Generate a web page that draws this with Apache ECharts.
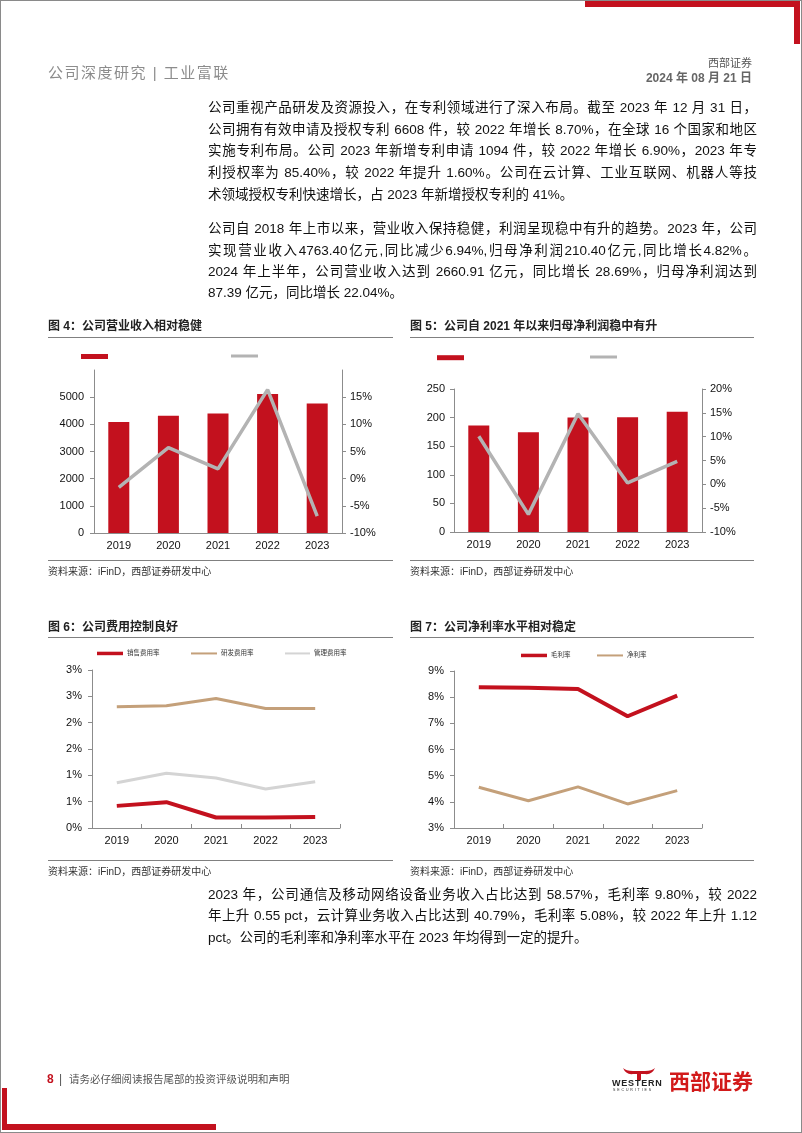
<!DOCTYPE html>
<html>
<head>
<meta charset="utf-8">
<title>工业富联</title>
<script src="https://cdn.jsdelivr.net/npm/echarts@6/dist/echarts.min.js"></script>
<style>
  html, body { margin: 0; padding: 0; background: #fff; }
  #page { position: relative; width: 802px; height: 1133px; overflow: hidden; background: #fff;
          font-family: "Liberation Sans", Arial, "Noto Sans CJK SC", sans-serif; }
  #visualisation { position: absolute; left: 0; top: 0; width: 802px; height: 1133px; }
  .frame { position: absolute; left: 0; top: 0; width: 800px; height: 1131px; border: 1px solid #8a8a8a; }
  .red { position: absolute; background: #c3111e; }
  .txt { position: absolute; white-space: nowrap; }
  .line { position: absolute; left: 208px; width: 549px; height: 22px; line-height: 22px; font-size: 13.5px;
          color: #111; text-align: justify; text-align-last: justify; }
  .line.last { text-align: left; text-align-last: left; }
  .ftitle { position: absolute; font-size: 12px; font-weight: bold; color: #222; line-height: 14px; white-space: nowrap; }
  .rule { position: absolute; height: 1px; background: #808080; }
  .src { position: absolute; font-size: 10px; color: #333; line-height: 12px; white-space: nowrap; }
</style>
</head>
<body>
<div id="page">
  <div id="visualisation"></div>
  <div class="frame"></div>

  <!-- rode hoeken -->
  <div class="red" style="left:585px; top:1px; width:215px; height:6px;"></div>
  <div class="red" style="left:794px; top:1px; width:6px; height:43px;"></div>
  <div class="red" style="left:2px; top:1088px; width:5px; height:42px;"></div>
  <div class="red" style="left:2px; top:1124px; width:214px; height:6px;"></div>

  <!-- kop -->
  <div class="txt" style="left:48px; top:63px; font-size:15px; line-height:20px; color:#8c8c8c; letter-spacing:1.5px;">公司深度研究 | 工业富联</div>
  <div class="txt" style="right:50px; top:56px; font-size:11px; line-height:14px; color:#555;">西部证券</div>
  <div class="txt" style="right:50px; top:71px; font-size:12px; line-height:14px; color:#666; font-weight:bold;">2024 年 08 月 21 日</div>

  <!-- tekst -->
  <div class="line" style="top:97px;">公司重视产品研发及资源投入，在专利领域进行了深入布局。截至 2023 年 12 月 31 日，</div>
  <div class="line" style="top:119px;">公司拥有有效申请及授权专利 6608 件，较 2022 年增长 8.70%，在全球 16 个国家和地区</div>
  <div class="line" style="top:140px;">实施专利布局。公司 2023 年新增专利申请 1094 件，较 2022 年增长 6.90%，2023 年专</div>
  <div class="line" style="top:162px;">利授权率为 85.40%，较 2022 年提升 1.60%。公司在云计算、工业互联网、机器人等技</div>
  <div class="line last" style="top:184px;">术领域授权专利快速增长，占 2023 年新增授权专利的 41%。</div>

  <div class="line" style="top:218px;">公司自 2018 年上市以来，营业收入保持稳健，利润呈现稳中有升的趋势。2023 年，公司</div>
  <div class="line" style="top:240px;">实现营业收入4763.40亿元,同比减少6.94%,归母净利润210.40亿元,同比增长4.82%。</div>
  <div class="line" style="top:261px;">2024 年上半年，公司营业收入达到 2660.91 亿元，同比增长 28.69%，归母净利润达到</div>
  <div class="line last" style="top:282px;">87.39 亿元，同比增长 22.04%。</div>

  <!-- figuurtitels en bronnen -->
  <div class="ftitle" style="left:48px; top:319px;">图 4：公司营业收入相对稳健</div>
  <div class="rule" style="left:48px; top:337px; width:345px;"></div>
  <div class="rule" style="left:48px; top:560px; width:345px;"></div>
  <div class="src" style="left:48px; top:566px;">资料来源：iFinD，西部证券研发中心</div>

  <div class="ftitle" style="left:410px; top:319px;">图 5：公司自 2021 年以来归母净利润稳中有升</div>
  <div class="rule" style="left:410px; top:337px; width:344px;"></div>
  <div class="rule" style="left:410px; top:560px; width:344px;"></div>
  <div class="src" style="left:410px; top:566px;">资料来源：iFinD，西部证券研发中心</div>

  <div class="ftitle" style="left:48px; top:620px;">图 6：公司费用控制良好</div>
  <div class="rule" style="left:48px; top:637px; width:345px;"></div>
  <div class="rule" style="left:48px; top:860px; width:345px;"></div>
  <div class="src" style="left:48px; top:866px;">资料来源：iFinD，西部证券研发中心</div>

  <div class="ftitle" style="left:410px; top:620px;">图 7：公司净利率水平相对稳定</div>
  <div class="rule" style="left:410px; top:637px; width:344px;"></div>
  <div class="rule" style="left:410px; top:860px; width:344px;"></div>
  <div class="src" style="left:410px; top:866px;">资料来源：iFinD，西部证券研发中心</div>

  <div class="line" style="top:884px;">2023 年，公司通信及移动网络设备业务收入占比达到 58.57%，毛利率 9.80%，较 2022</div>
  <div class="line" style="top:905px;">年上升 0.55 pct，云计算业务收入占比达到 40.79%，毛利率 5.08%，较 2022 年上升 1.12</div>
  <div class="line last" style="top:927px;">pct。公司的毛利率和净利率水平在 2023 年均得到一定的提升。</div>

  <!-- voet -->
  <div class="txt" style="left:47px; top:1072px; font-size:12px; line-height:14px; color:#c3111e; font-weight:bold;">8</div>
  <div class="txt" style="left:59px; top:1072px; font-size:12px; line-height:14px; color:#555;">|</div>
  <div class="txt" style="left:69px; top:1073px; font-size:10.5px; line-height:12px; color:#555;">请务必仔细阅读报告尾部的投资评级说明和声明</div>
  <svg class="txt" style="left:622px; top:1066px;" width="34" height="14">
    <path d="M1 2 Q4 9 11 8 L23 8 Q30 9 33 2 Q30 5 23 5 L11 5 Q4 5 1 2 Z" fill="#c3111e"/>
    <rect x="15" y="7" width="4" height="7" fill="#c3111e"/>
  </svg>
  <div class="txt" style="left:612px; top:1078px; font-size:9px; line-height:10px; color:#222; font-weight:bold; letter-spacing:0.8px;">WESTERN</div>
  <div class="txt" style="left:613px; top:1088px; font-size:3.5px; line-height:4px; color:#222; letter-spacing:1.9px;">SECURITIES</div>
  <div class="txt" style="left:669px; top:1070px; font-size:21px; line-height:24px; color:#d21a1a; font-weight:bold;">西部证券</div>
</div>

<script>
// Data uit de figuren
const years = ['2019', '2020', '2021', '2022', '2023'];
const revenue = [4087, 4318, 4396, 5118, 4763];           // 营业收入（亿元）
const revenueYoy = [-1.6, 5.7, 1.8, 16.4, -6.9];          // %
const netProfit = [186.1, 174.3, 200.1, 200.7, 210.4];    // 归母净利润（亿元）
const netProfitYoy = [10.1, -6.3, 14.8, 0.3, 4.8];        // %
const sellingRate = [0.42, 0.49, 0.20, 0.20, 0.21];       // 销售费用率 %
const rdRate = [2.30, 2.32, 2.46, 2.27, 2.27];            // 研发费用率 %
const adminRate = [0.86, 1.04, 0.95, 0.74, 0.88];         // 管理费用率 %
const grossMargin = [8.38, 8.36, 8.31, 7.27, 8.06];       // 毛利率 %
const netMargin = [4.56, 4.04, 4.57, 3.92, 4.43];         // 净利率 %

const FONT = '"Liberation Sans", Arial, "Noto Sans CJK SC", sans-serif';
const RED = '#c3111e';
const GRAY = '#b3b3b3';
const LIGHT = '#d4d4d4';
const TAN = '#c4a07a';
const AXIS = '#8c8c8c';

const plain = v => String(v);
const pct = v => v + '%';

function catAxis(gridIndex, tick) {
  return {
    type: 'category', gridIndex: gridIndex, data: years,
    axisLine: { lineStyle: { color: AXIS } },
    axisTick: { show: tick, inside: true, length: 4, lineStyle: { color: AXIS } },
    axisLabel: { color: '#111', fontSize: 11, margin: 7, fontFamily: FONT }
  };
}

function valAxis(gridIndex, position, min, max, interval, formatter, showMax, margin) {
  return {
    type: 'value', gridIndex: gridIndex, position: position,
    min: min, max: max, interval: interval,
    splitLine: { show: false },
    axisLine: { show: true, lineStyle: { color: AXIS } },
    axisTick: { show: true, length: 4, lineStyle: { color: AXIS } },
    axisLabel: { color: '#111', fontSize: 11, margin: margin, fontFamily: FONT,
                 formatter: formatter, showMaxLabel: showMax }
  };
}

function legendItem(name, left, centerY, w, h, showText) {
  let textH = showText ? 7 : h;
  return {
    data: [name], left: left, top: centerY - Math.max(h, textH) / 2,
    padding: 0, icon: 'rect', itemWidth: w, itemHeight: h, selectedMode: false,
    formatter: showText ? '{name}' : () => '',
    textStyle: { fontSize: showText ? 6.5 : 1, color: '#333', fontFamily: FONT, padding: [0, 0, 0, -1] }
  };
}

function drawVisualisation() {
  let visualisation = echarts.init(document.getElementById('visualisation'));

  let option = {
    animation: false,
    grid: [
      { left: 94, top: 370, width: 248, height: 163, outerBoundsMode: 'none' },
      { left: 454, top: 389, width: 248, height: 143, outerBoundsMode: 'none' },
      { left: 92, top: 670, width: 248, height: 158, outerBoundsMode: 'none' },
      { left: 454, top: 671, width: 248, height: 157, outerBoundsMode: 'none' }
    ],
    xAxis: [catAxis(0, false), catAxis(1, false), catAxis(2, true), catAxis(3, true)],
    yAxis: [
      valAxis(0, 'left', 0, 6000, 1000, plain, false, 10),
      valAxis(0, 'right', -10, 20, 5, pct, false, 8),
      valAxis(1, 'left', 0, 250, 50, plain, true, 9),
      valAxis(1, 'right', -10, 20, 5, pct, true, 8),
      valAxis(2, 'left', 0, 3, 0.5, v => Math.round(v) + '%', true, 10),
      valAxis(3, 'left', 3, 9, 1, pct, true, 10)
    ],
    legend: [
      legendItem('营业收入', 81, 356.5, 27, 5, false),
      legendItem('营业收入同比', 231, 356, 27, 3, false),
      legendItem('归母净利润', 437, 357.7, 27, 5, false),
      legendItem('归母净利润同比', 590, 357, 27, 3, false),
      legendItem('销售费用率', 97, 653.7, 26, 3.5, true),
      legendItem('研发费用率', 191, 653.7, 26, 2, true),
      legendItem('管理费用率', 285, 653.7, 25, 2, true),
      legendItem('毛利率', 521, 655.7, 26, 3.5, true),
      legendItem('净利率', 597, 655.7, 26, 2, true)
    ],
    series: [
      { name: '营业收入', type: 'bar', xAxisIndex: 0, yAxisIndex: 0, data: revenue,
        barWidth: 21, itemStyle: { color: RED } },
      { name: '营业收入同比', type: 'line', xAxisIndex: 0, yAxisIndex: 1, data: revenueYoy,
        symbol: 'none', itemStyle: { color: GRAY }, lineStyle: { color: GRAY, width: 3.5 } },
      { name: '归母净利润', type: 'bar', xAxisIndex: 1, yAxisIndex: 2, data: netProfit,
        barWidth: 21, itemStyle: { color: RED } },
      { name: '归母净利润同比', type: 'line', xAxisIndex: 1, yAxisIndex: 3, data: netProfitYoy,
        symbol: 'none', itemStyle: { color: GRAY }, lineStyle: { color: GRAY, width: 3.5 } },
      { name: '销售费用率', type: 'line', xAxisIndex: 2, yAxisIndex: 4, data: sellingRate,
        symbol: 'none', itemStyle: { color: RED }, lineStyle: { color: RED, width: 4 } },
      { name: '研发费用率', type: 'line', xAxisIndex: 2, yAxisIndex: 4, data: rdRate,
        symbol: 'none', itemStyle: { color: TAN }, lineStyle: { color: TAN, width: 3 } },
      { name: '管理费用率', type: 'line', xAxisIndex: 2, yAxisIndex: 4, data: adminRate,
        symbol: 'none', itemStyle: { color: LIGHT }, lineStyle: { color: LIGHT, width: 3 } },
      { name: '毛利率', type: 'line', xAxisIndex: 3, yAxisIndex: 5, data: grossMargin,
        symbol: 'none', itemStyle: { color: RED }, lineStyle: { color: RED, width: 4 } },
      { name: '净利率', type: 'line', xAxisIndex: 3, yAxisIndex: 5, data: netMargin,
        symbol: 'none', itemStyle: { color: TAN }, lineStyle: { color: TAN, width: 3 } }
    ]
  };

  visualisation.setOption(option);
}

window.addEventListener('load', drawVisualisation);
</script>
</body>
</html>
